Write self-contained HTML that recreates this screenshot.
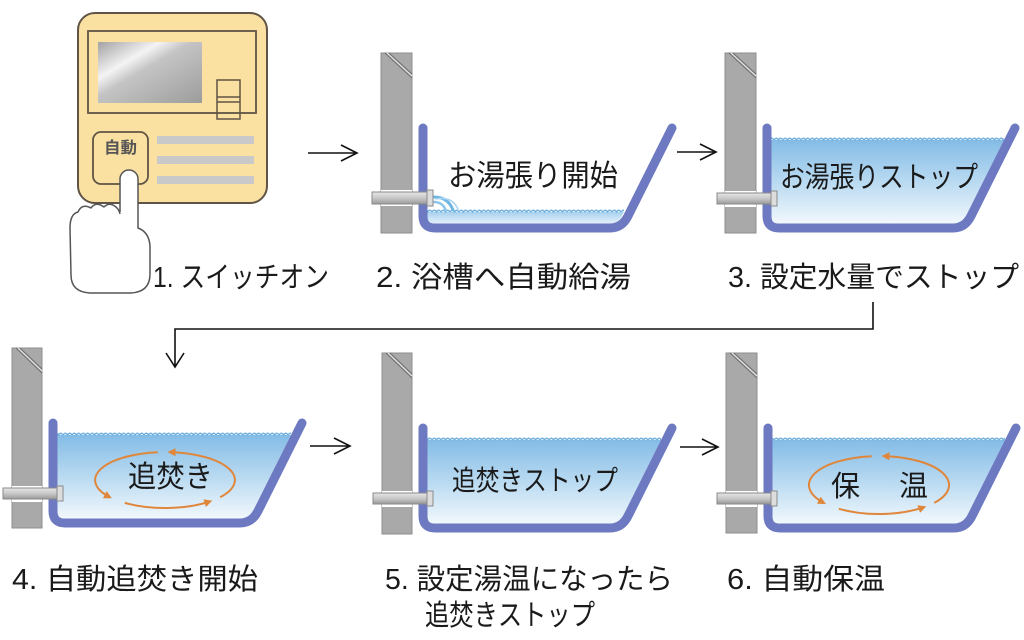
<!DOCTYPE html>
<html><head><meta charset="utf-8"><style>
html,body{margin:0;padding:0;background:#fff;}
svg{display:block;}
text{font-family:"Liberation Sans","Noto Sans CJK JP",sans-serif;fill:#1a1a1a;}
</style></head><body>
<svg width="1024" height="640" viewBox="0 0 1024 640" xmlns="http://www.w3.org/2000/svg">
<defs>
<linearGradient id="scr" x1="0" y1="0" x2="1" y2="1">
<stop offset="0" stop-color="#a2a2a2"/><stop offset="0.3" stop-color="#f4f4f4"/><stop offset="0.45" stop-color="#c4c4c4"/><stop offset="1" stop-color="#9c9c9c"/>
</linearGradient>
<linearGradient id="wat" x1="0" y1="0" x2="0" y2="1">
<stop offset="0" stop-color="#84bce6"/><stop offset="0.5" stop-color="#b9daf1"/><stop offset="1" stop-color="#f2f8fd"/>
</linearGradient>
<linearGradient id="wat2" x1="0" y1="0" x2="0" y2="1">
<stop offset="0" stop-color="#a8d1ee"/><stop offset="1" stop-color="#e6f2fb"/>
</linearGradient>
<linearGradient id="pipe" x1="0" y1="0" x2="0" y2="1">
<stop offset="0" stop-color="#e6e6e6"/><stop offset="0.5" stop-color="#c8c8c8"/><stop offset="1" stop-color="#9a9a9a"/>
</linearGradient>
<pattern id="wave" width="9" height="6" patternUnits="userSpaceOnUse">
<path d="M0,4 Q2.25,0.5 4.5,4 Q6.75,0.5 9,4" fill="none" stroke="#6fb0df" stroke-width="1.4"/>
</pattern>
<marker id="oa" viewBox="0 0 10 10" refX="7" refY="5" markerWidth="9" markerHeight="8" orient="auto" markerUnits="userSpaceOnUse">
<path d="M0,0 L10,5 L0,10 z" fill="#e0863a"/>
</marker>
</defs>

<!-- ===== Panel 1: remote ===== -->
<rect x="78" y="13" width="189" height="190" rx="17" fill="#fbe1a1" stroke="#5f5446" stroke-width="2"/>
<rect x="88" y="31" width="168" height="82" fill="none" stroke="#5f5446" stroke-width="1.8"/>
<rect x="98" y="42" width="104" height="61" fill="url(#scr)"/>
<rect x="217" y="80" width="23" height="39" fill="none" stroke="#5f5446" stroke-width="1.5"/>
<line x1="217" y1="97" x2="240" y2="97" stroke="#5f5446" stroke-width="1.5"/>
<line x1="217" y1="102" x2="240" y2="102" stroke="#5f5446" stroke-width="1.5"/>
<rect x="93" y="132" width="55" height="52" rx="8" fill="#fbe1a1" stroke="#5f5446" stroke-width="1.8"/>
<text x="104" y="153" font-size="16" font-weight="bold" style="fill:#555" textLength="33" lengthAdjust="spacingAndGlyphs">自動</text>
<rect x="157" y="136" width="97" height="8" fill="#c9c9c9"/>
<rect x="157" y="156" width="97" height="8" fill="#c9c9c9"/>
<rect x="157" y="176" width="97" height="8" fill="#c9c9c9"/>
<!-- hand -->
<path d="M120,212 L120,179 A9,9 0 0 1 138,179 L138,228 Q149,232 150,246 L150,274 Q150,292 131,293 L90,293 Q71,292 71,275 L70,228 Q70,214 78,212 Q82,203 91,208 Q96,201 104,207 Q110,201 117,208 Q119,210 120,214" fill="#fff" stroke="#555" stroke-width="1.5" stroke-linejoin="round"/>

<!-- ===== Arrows ===== -->
<g fill="none" stroke="#111" stroke-width="1.6">
<path d="M308,153 L357,153 M341,145 L357,153 L341,161"/>
<path d="M677,152 L716,152 M700,144 L716,152 L700,160"/>
<path d="M310,446 L350,446 M334,438 L350,446 L334,454"/>
<path d="M680,447 L718,447 M702,439 L718,447 L702,455"/>
<path d="M873,302 L873,329 L175,329 L175,367 M166,353 L175,367 L184,353"/>
</g>

<!-- ===== Walls ===== -->
<g stroke="#8e8e8e" stroke-width="1" fill="#a9a9a9">
<rect x="381" y="53" width="31" height="180"/>
<rect x="725" y="53" width="31" height="180"/>
<rect x="12" y="348" width="30" height="180"/>
<rect x="382" y="353" width="30" height="181"/>
<rect x="726" y="353" width="31" height="180"/>
</g>
<g fill="none" stroke-width="1">
<path d="M385,53 L412,78 M389,53 L412,74" stroke="#6f6f6f"/><path d="M387,53 L412,76" stroke="#e8e8e8"/>
<path d="M729,53 L756,78 M733,53 L756,74" stroke="#6f6f6f"/><path d="M731,53 L756,76" stroke="#e8e8e8"/>
<path d="M16,348 L42,373 M20,348 L42,369" stroke="#6f6f6f"/><path d="M18,348 L42,371" stroke="#e8e8e8"/>
<path d="M386,353 L412,378 M390,353 L412,374" stroke="#6f6f6f"/><path d="M388,353 L412,376" stroke="#e8e8e8"/>
<path d="M730,353 L757,378 M734,353 L757,374" stroke="#6f6f6f"/><path d="M732,353 L757,376" stroke="#e8e8e8"/>
</g>

<!-- ===== Water ===== -->
<path d="M427,212 L624,212 L621,217 Q617,224 609,224 L427,224 Z" fill="url(#wat2)"/>
<g transform="translate(0,208)"><rect x="427" y="0" width="197" height="6" fill="url(#wave)"/></g>
<path d="M771,140 L1004,140 L966,216 Q962,224 953,224 L771,224 Z" fill="url(#wat)"/>
<g transform="translate(0,136)"><rect x="771" y="0" width="233" height="6" fill="url(#wave)"/></g>
<path d="M57,435 L291,435 L253,511 Q249,519 240,519 L57,519 Z" fill="url(#wat)"/>
<g transform="translate(0,431)"><rect x="57" y="0" width="234" height="6" fill="url(#wave)"/></g>
<path d="M427,440 L661,440 L623,516 Q619,524 610,524 L427,524 Z" fill="url(#wat)"/>
<g transform="translate(0,436)"><rect x="427" y="0" width="234" height="6" fill="url(#wave)"/></g>
<path d="M772,440 L1005,440 L967,516 Q963,524 954,524 L772,524 Z" fill="url(#wat)"/>
<g transform="translate(0,436)"><rect x="772" y="0" width="233" height="6" fill="url(#wave)"/></g>

<!-- splash -->
<g fill="none" stroke-linecap="round">
<path d="M434,197 Q448,197 453,210" stroke="#6fb6e3" stroke-width="3"/>
<path d="M434,202 Q443,202 446,211" stroke="#8cc6ea" stroke-width="2.5"/>
<path d="M436,199 Q452,196 458,209" stroke="#a9d6f0" stroke-width="1.5"/>
</g>

<!-- ===== Tubs ===== -->
<g fill="none" stroke="#6d79c0" stroke-width="9" stroke-linecap="round" stroke-linejoin="round">
<path d="M423,128 L423,216 Q423,228 435,228 L610,228 Q622,228 628,216 L672,128"/>
<path d="M767,128 L767,216 Q767,228 779,228 L953,228 Q965,228 971,216 L1015,128"/>
<path d="M53,423 L53,511 Q53,523 65,523 L240,523 Q252,523 258,511 L302,423"/>
<path d="M423,428 L423,516 Q423,528 435,528 L610,528 Q622,528 628,516 L672,428"/>
<path d="M768,428 L768,516 Q768,528 780,528 L954,528 Q966,528 972,516 L1016,428"/>
</g>

<!-- ===== Pipes ===== -->
<g>
<rect x="381" y="190" width="31" height="16" fill="#fff"/>
<rect x="372" y="192" width="56" height="12" fill="url(#pipe)" stroke="#8a8a8a" stroke-width="1"/>
<rect x="427" y="190" width="6" height="16" fill="#ddd" stroke="#8a8a8a" stroke-width="1"/>

<rect x="725" y="191" width="31" height="16" fill="#fff"/>
<rect x="717" y="193" width="55" height="11" fill="url(#pipe)" stroke="#8a8a8a" stroke-width="1"/>
<rect x="771" y="191" width="6" height="15" fill="#ddd" stroke="#8a8a8a" stroke-width="1"/>

<rect x="12" y="486" width="30" height="16" fill="#fff"/>
<rect x="3" y="488" width="55" height="11" fill="url(#pipe)" stroke="#8a8a8a" stroke-width="1"/>
<rect x="57" y="486" width="6" height="15" fill="#ddd" stroke="#8a8a8a" stroke-width="1"/>

<rect x="382" y="491" width="30" height="16" fill="#fff"/>
<rect x="373" y="493" width="55" height="11" fill="url(#pipe)" stroke="#8a8a8a" stroke-width="1"/>
<rect x="427" y="491" width="6" height="15" fill="#ddd" stroke="#8a8a8a" stroke-width="1"/>

<rect x="726" y="491" width="31" height="16" fill="#fff"/>
<rect x="717" y="493" width="55" height="11" fill="url(#pipe)" stroke="#8a8a8a" stroke-width="1"/>
<rect x="771" y="491" width="6" height="15" fill="#ddd" stroke="#8a8a8a" stroke-width="1"/>
</g>

<!-- ===== Orange circulation arrows ===== -->
<g fill="none" stroke="#e0863a" stroke-width="2" marker-end="url(#oa)">
<path d="M220.2,497.2 A70,28 0 0 0 169.9,452.1"/>
<path d="M157.7,452.2 A70,28 0 0 0 109.8,497.2"/>
<path d="M124.8,502.9 A70,28 0 0 0 210,501.4"/>
<path d="M934.2,502.9 A70,29 0 0 0 883.9,456.1"/>
<path d="M871.7,456.2 A70,29 0 0 0 823.8,502.9"/>
<path d="M838.8,508.8 A70,29 0 0 0 924,507.2"/>
</g>

<!-- ===== Tub texts ===== -->
<text x="448" y="186" font-size="30" textLength="170" lengthAdjust="spacingAndGlyphs">お湯張り開始</text>
<text x="780" y="187" font-size="29" textLength="198" lengthAdjust="spacingAndGlyphs">お湯張りストップ</text>
<text x="128" y="487" font-size="30" textLength="85" lengthAdjust="spacingAndGlyphs">追焚き</text>
<text x="452" y="490" font-size="28" textLength="166" lengthAdjust="spacingAndGlyphs">追焚きストップ</text>
<text x="831" y="496" font-size="29">保</text>
<text x="899" y="496" font-size="29">温</text>

<!-- ===== Labels ===== -->
<text x="153" y="287" font-size="29" textLength="176" lengthAdjust="spacingAndGlyphs">1. スイッチオン</text>
<text x="376" y="287" font-size="29" textLength="255" lengthAdjust="spacingAndGlyphs">2. 浴槽へ自動給湯</text>
<text x="728" y="287" font-size="29" textLength="291" lengthAdjust="spacingAndGlyphs">3. 設定水量でストップ</text>
<text x="12" y="589" font-size="29" textLength="246" lengthAdjust="spacingAndGlyphs">4. 自動追焚き開始</text>
<text x="385" y="589" font-size="29" textLength="288" lengthAdjust="spacingAndGlyphs">5. 設定湯温になったら</text>
<text x="425" y="625" font-size="29" textLength="170" lengthAdjust="spacingAndGlyphs">追焚きストップ</text>
<text x="727" y="589" font-size="29" textLength="158" lengthAdjust="spacingAndGlyphs">6. 自動保温</text>
</svg>
</body></html>
